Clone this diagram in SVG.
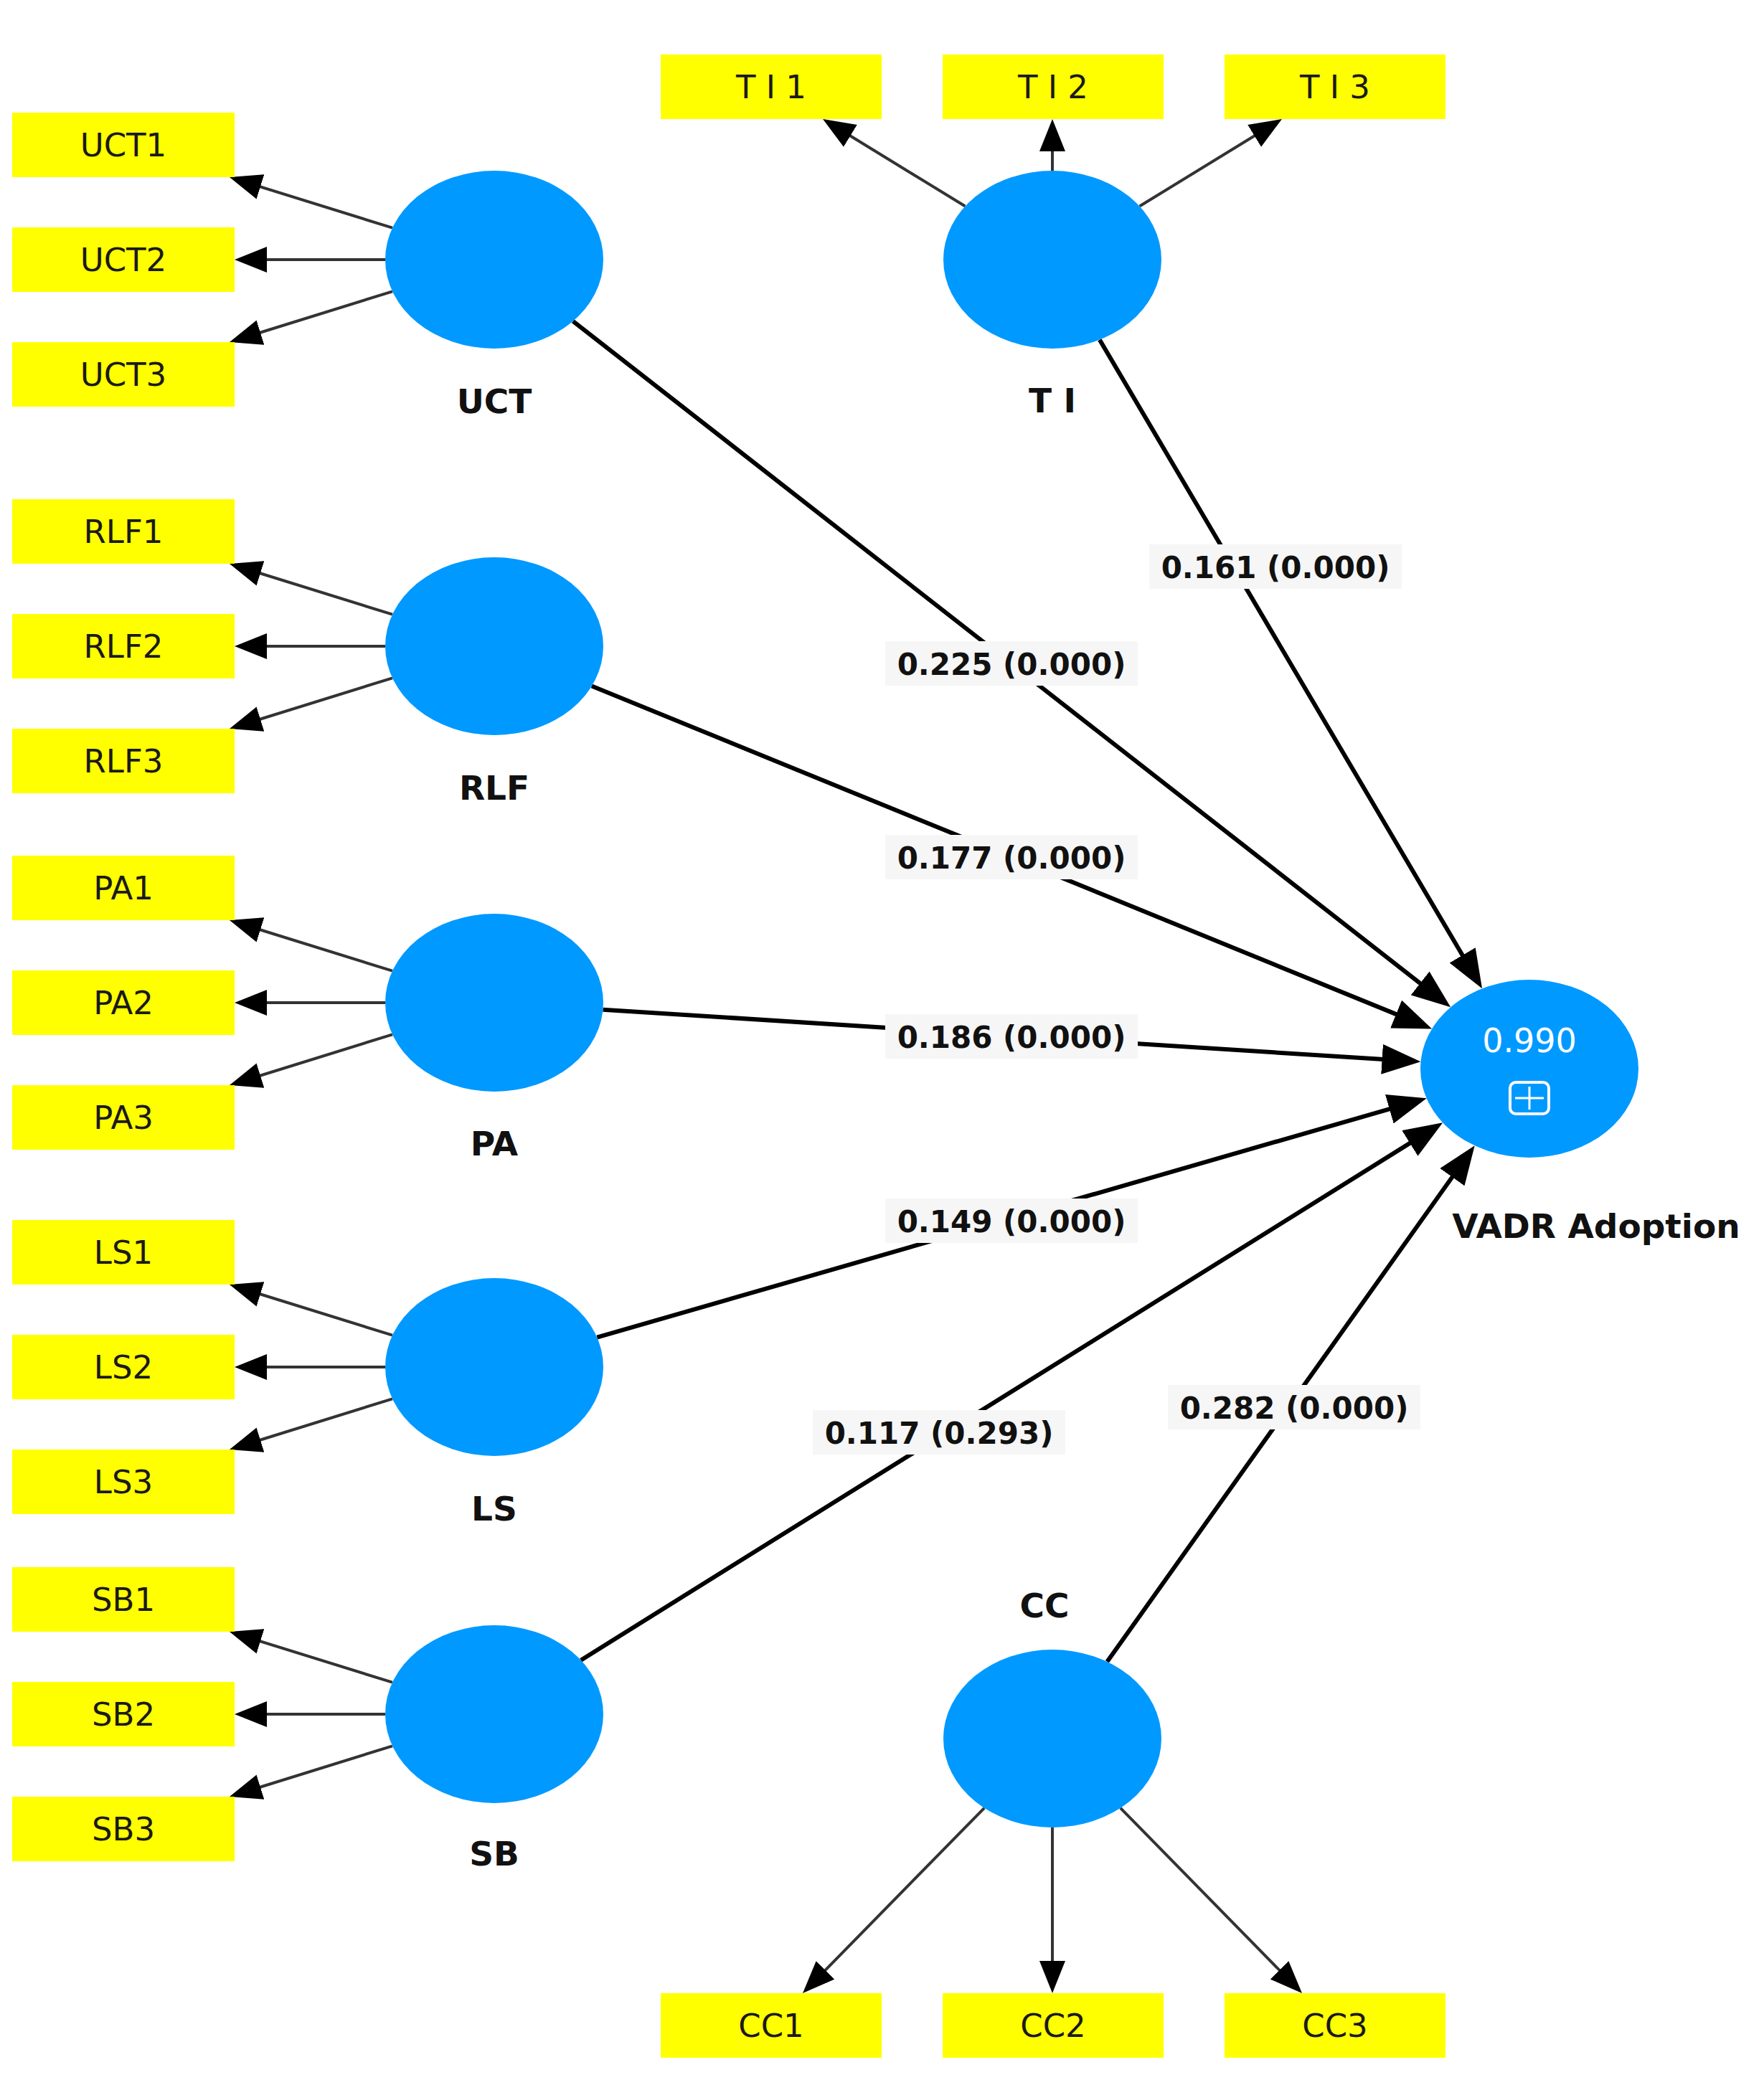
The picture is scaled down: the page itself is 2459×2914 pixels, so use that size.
<svg xmlns="http://www.w3.org/2000/svg" width="2459" height="2914" viewBox="0 0 2459 2914">
<style>
.ind{fill:#ffff00}
.indt{font-family:"DejaVu Sans","Liberation Sans",sans-serif;font-size:45px;fill:#1a1a1a;text-anchor:middle}
.lv{fill:#0099ff}
.lvt{font-family:"DejaVu Sans","Liberation Sans",sans-serif;font-size:47px;font-weight:bold;fill:#111;text-anchor:middle}
.ol{stroke:#333;stroke-width:4;fill:none;marker-end:url(#ah)}
.sl{stroke:#000;stroke-width:6;fill:none;marker-end:url(#bh)}
.lbg{fill:#f6f6f6}
.lbt{font-family:"DejaVu Sans","Liberation Sans",sans-serif;font-size:42px;font-weight:bold;fill:#111;text-anchor:middle}
</style>
<defs>
<marker id="ah" markerUnits="userSpaceOnUse" viewBox="0 0 45 36" markerWidth="45" markerHeight="36" refX="30" refY="18" orient="auto"><path d="M0,0 L45,18 L0,36 Z" fill="#000"/></marker>
<marker id="bh" markerUnits="userSpaceOnUse" viewBox="0 0 54 42" markerWidth="54" markerHeight="42" refX="34" refY="21" orient="auto"><path d="M0,0 L54,21 L0,42 Z" fill="#000"/></marker>
</defs>
<rect width="2459" height="2914" fill="#fff"/>
<g id="connectors">
<path class="ol" d="M547,317.7 L334.3,251.5"/>
<path class="ol" d="M537,362 L342,362"/>
<path class="ol" d="M547,406.3 L334.3,472.5"/>
<path class="ol" d="M547,856.7 L334.3,790.5"/>
<path class="ol" d="M537,901 L342,901"/>
<path class="ol" d="M547,945.3 L334.3,1011.5"/>
<path class="ol" d="M547,1353.7 L334.3,1287.5"/>
<path class="ol" d="M537,1398 L342,1398"/>
<path class="ol" d="M547,1442.3 L334.3,1508.5"/>
<path class="ol" d="M547,1861.7 L334.3,1795.5"/>
<path class="ol" d="M537,1906 L342,1906"/>
<path class="ol" d="M547,1950.3 L334.3,2016.5"/>
<path class="ol" d="M547,2345.7 L334.3,2279.5"/>
<path class="ol" d="M537,2390 L342,2390"/>
<path class="ol" d="M547,2434.3 L334.3,2500.5"/>
<path class="ol" d="M1345.4,287.5 L1159.8,173.8"/>
<path class="ol" d="M1467,238 L1467,181"/>
<path class="ol" d="M1588.6,287.5 L1774.2,173.8"/>
<path class="ol" d="M1372.1,2520.8 L1129.5,2768.3"/>
<path class="ol" d="M1467,2548 L1467,2764"/>
<path class="ol" d="M1561.9,2520.8 L1804.5,2768.3"/>
<path class="sl" d="M798.8,447.8 L2006.4,1391.9"/>
<path class="sl" d="M824.9,956.5 L1977.6,1426.9"/>
<path class="sl" d="M840.5,1407.7 L1960.5,1479"/>
<path class="sl" d="M832.3,1864.7 L1969.5,1536.8"/>
<path class="sl" d="M809.8,2314.7 L1994.2,1575.9"/>
<path class="sl" d="M1532.9,473.8 L2055.9,1361.1"/>
<path class="sl" d="M1543.4,2316.8 L2044.1,1613.5"/>
<g id="path-labels">
<rect class="lbg" x="1602" y="759" width="352" height="62"/><text class="lbt" x="1778" y="806">0.161 (0.000)</text>
<rect class="lbg" x="1234" y="894" width="352" height="62"/><text class="lbt" x="1410" y="941">0.225 (0.000)</text>
<rect class="lbg" x="1234" y="1164" width="352" height="62"/><text class="lbt" x="1410" y="1211">0.177 (0.000)</text>
<rect class="lbg" x="1234" y="1414" width="352" height="62"/><text class="lbt" x="1410" y="1461">0.186 (0.000)</text>
<rect class="lbg" x="1234" y="1671" width="352" height="62"/><text class="lbt" x="1410" y="1718">0.149 (0.000)</text>
<rect class="lbg" x="1133" y="1966" width="352" height="62"/><text class="lbt" x="1309" y="2013">0.117 (0.293)</text>
<rect class="lbg" x="1628" y="1931" width="352" height="62"/><text class="lbt" x="1804" y="1978">0.282 (0.000)</text>
</g>
</g>
<g id="UCT"><ellipse class="lv" cx="689" cy="362" rx="152" ry="124"/><text class="lvt" x="689" y="576">UCT</text></g>
<g id="RLF"><ellipse class="lv" cx="689" cy="901" rx="152" ry="124"/><text class="lvt" x="689" y="1115">RLF</text></g>
<g id="PA"><ellipse class="lv" cx="689" cy="1398" rx="152" ry="124"/><text class="lvt" x="689" y="1611">PA</text></g>
<g id="LS"><ellipse class="lv" cx="689" cy="1906" rx="152" ry="124"/><text class="lvt" x="689" y="2120">LS</text></g>
<g id="SB"><ellipse class="lv" cx="689" cy="2390" rx="152" ry="124"/><text class="lvt" x="689" y="2601">SB</text></g>
<g id="TI"><ellipse class="lv" cx="1467" cy="362" rx="152" ry="124"/><text class="lvt" x="1467" y="575">T I</text></g>
<g id="CC"><ellipse class="lv" cx="1467" cy="2424" rx="152" ry="124"/><text class="lvt" x="1456" y="2255">CC</text></g>
<g id="VADR"><ellipse class="lv" cx="2132" cy="1490" rx="152" ry="124"/>
<text x="2132" y="1467" font-family="DejaVu Sans, Liberation Sans, sans-serif" font-size="46" fill="#fff" text-anchor="middle">0.990</text>
<rect x="2105" y="1509" width="54" height="44" rx="8" fill="none" stroke="#fff" stroke-width="4"/>
<path d="M2132,1515 V1547 M2112,1531 H2152" stroke="#fff" stroke-width="3" fill="none"/>
<text class="lvt" x="2225" y="1726" font-size="49">VADR Adoption</text></g>
<g id="UCT1"><rect class="ind" x="17" y="157" width="310" height="90"/><text class="indt" x="172" y="218">UCT1</text></g>
<g id="UCT2"><rect class="ind" x="17" y="317" width="310" height="90"/><text class="indt" x="172" y="378">UCT2</text></g>
<g id="UCT3"><rect class="ind" x="17" y="477" width="310" height="90"/><text class="indt" x="172" y="538">UCT3</text></g>
<g id="RLF1"><rect class="ind" x="17" y="696" width="310" height="90"/><text class="indt" x="172" y="757">RLF1</text></g>
<g id="RLF2"><rect class="ind" x="17" y="856" width="310" height="90"/><text class="indt" x="172" y="917">RLF2</text></g>
<g id="RLF3"><rect class="ind" x="17" y="1016" width="310" height="90"/><text class="indt" x="172" y="1077">RLF3</text></g>
<g id="PA1"><rect class="ind" x="17" y="1193" width="310" height="90"/><text class="indt" x="172" y="1254">PA1</text></g>
<g id="PA2"><rect class="ind" x="17" y="1353" width="310" height="90"/><text class="indt" x="172" y="1414">PA2</text></g>
<g id="PA3"><rect class="ind" x="17" y="1513" width="310" height="90"/><text class="indt" x="172" y="1574">PA3</text></g>
<g id="LS1"><rect class="ind" x="17" y="1701" width="310" height="90"/><text class="indt" x="172" y="1762">LS1</text></g>
<g id="LS2"><rect class="ind" x="17" y="1861" width="310" height="90"/><text class="indt" x="172" y="1922">LS2</text></g>
<g id="LS3"><rect class="ind" x="17" y="2021" width="310" height="90"/><text class="indt" x="172" y="2082">LS3</text></g>
<g id="SB1"><rect class="ind" x="17" y="2185" width="310" height="90"/><text class="indt" x="172" y="2246">SB1</text></g>
<g id="SB2"><rect class="ind" x="17" y="2345" width="310" height="90"/><text class="indt" x="172" y="2406">SB2</text></g>
<g id="SB3"><rect class="ind" x="17" y="2505" width="310" height="90"/><text class="indt" x="172" y="2566">SB3</text></g>
<g id="TI1"><rect class="ind" x="921" y="76" width="308" height="90"/><text class="indt" x="1075" y="137">T I 1</text></g>
<g id="TI2"><rect class="ind" x="1314" y="76" width="308" height="90"/><text class="indt" x="1468" y="137">T I 2</text></g>
<g id="TI3"><rect class="ind" x="1707" y="76" width="308" height="90"/><text class="indt" x="1861" y="137">T I 3</text></g>
<g id="CC1"><rect class="ind" x="921" y="2779" width="308" height="90"/><text class="indt" x="1075" y="2840">CC1</text></g>
<g id="CC2"><rect class="ind" x="1314" y="2779" width="308" height="90"/><text class="indt" x="1468" y="2840">CC2</text></g>
<g id="CC3"><rect class="ind" x="1707" y="2779" width="308" height="90"/><text class="indt" x="1861" y="2840">CC3</text></g>
</svg>
